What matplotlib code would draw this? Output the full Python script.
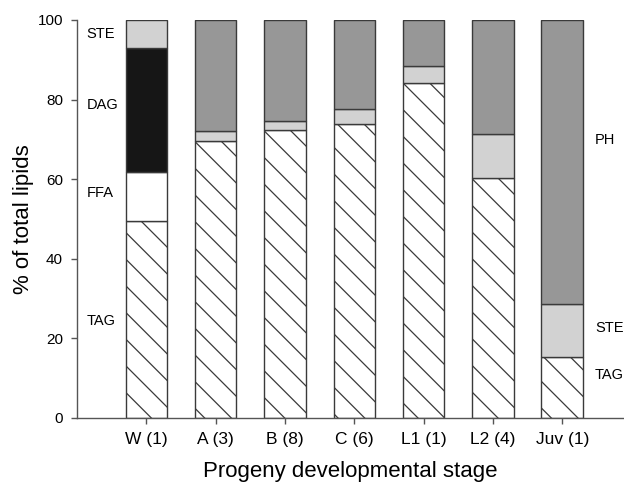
import numpy as np
import matplotlib
matplotlib.use("Agg")
import matplotlib.pyplot as plt

# figure is drawn at 80 dpi so that the hatch spacing matches the original
DPI = 80
S = 100 / DPI  # scale for sizes given as at 100 dpi

plt.rcParams['font.family'] = ['Liberation Sans', 'DejaVu Sans']
plt.rcParams['hatch.linewidth'] = 0.9 * S
plt.rcParams['hatch.color'] = '#222222'

# Lipid composition (% of total lipids) per progeny stage
stages = ['W (1)', 'A (3)', 'B (8)', 'C (6)', 'L1 (1)', 'L2 (4)', 'Juv (1)']
tag = [49.6, 69.7, 72.4, 73.9, 84.2, 60.2, 15.2]
ffa = [12.3, 0, 0, 0, 0, 0, 0]
dag = [31.0, 0, 0, 0, 0, 0, 0]
ste = [7.1, 2.4, 2.3, 3.7, 4.2, 11.1, 13.4]
ph = [0, 27.9, 25.3, 22.4, 11.6, 28.7, 71.4]

fig = plt.figure(figsize=(624 / DPI, 484 / DPI), dpi=DPI)
ax = fig.add_axes([0.1234, 0.1364, 0.8766, 0.8223])

x = np.arange(len(stages))
w = 0.6
edge = '#3a3a3a'
bottom = np.zeros(len(stages))
layers = [
    (tag, 'white', '\\'),
    (ffa, 'white', None),
    (dag, '#161616', None),
    (ste, '#d2d2d2', None),
    (ph, '#979797', None),
]
for vals, col, hatch in layers:
    vals = np.array(vals)
    mask = vals > 0
    ax.bar(x[mask], vals[mask], w, bottom=bottom[mask], color=col,
           edgecolor=edge, linewidth=1.0 * S, hatch=hatch)
    bottom += vals

# segment labels
lx = -0.86
for txt, yv in [('STE', 96.5), ('DAG', 78.7), ('FFA', 56.5), ('TAG', 24.4)]:
    ax.text(lx, yv, txt, fontsize=10.5 * S, va='center', ha='left')
rx = 6.47
for txt, yv in [('PH', 69.8), ('STE', 22.6), ('TAG', 10.8)]:
    ax.text(rx, yv, txt, fontsize=10.5 * S, va='center', ha='left')

ax.set_xlim(-1.0, 6.89)
ax.set_ylim(0, 100)
ax.set_yticks([0, 20, 40, 60, 80, 100])
ax.set_xticks(x)
ax.set_xticklabels(stages)
ax.tick_params(length=4 * S, width=1.0 * S, color='#555555', pad=6 * S)
ax.tick_params(axis='y', labelsize=11 * S)
ax.tick_params(axis='x', labelsize=12.5 * S)
ax.spines['top'].set_visible(False)
ax.spines['right'].set_visible(False)
for s in ['left', 'bottom']:
    ax.spines[s].set_color('#555555')
    ax.spines[s].set_linewidth(1.0 * S)
ax.set_ylabel('% of total lipids', fontsize=16 * S, labelpad=2.5 * S)
ax.set_xlabel('Progeny developmental stage', fontsize=16 * S, labelpad=10 * S)

fig.savefig('out.png', dpi=DPI)
